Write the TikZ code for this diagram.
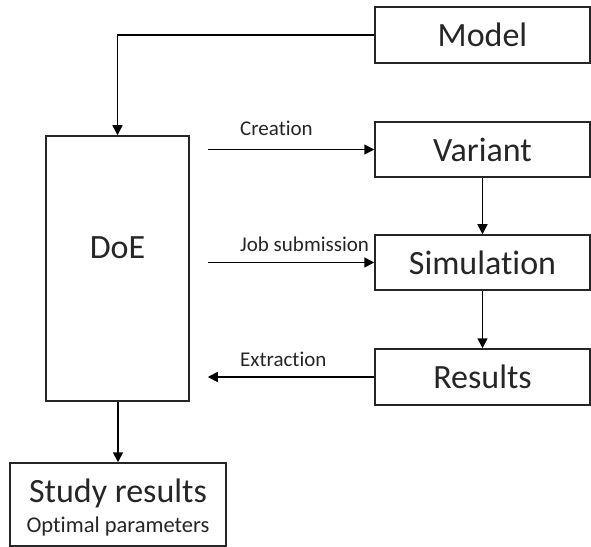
\documentclass[tikz,border=0pt]{standalone}
\usepackage{fontspec}
\setmainfont[Ligatures={NoCommon}]{Carlito}
\usetikzlibrary{arrows.meta,calc}
\begin{document}
\begin{tikzpicture}[x=1bp,y=-1bp,
  box/.style={draw=black!85,line width=1.5bp,inner sep=0pt,fill=white},
  big/.style={font=\fontsize{34bp}{40bp}\selectfont,text=black!85},
  small/.style={font=\fontsize{21bp}{25bp}\selectfont,text=black!85},
  arr/.style={line width=1.6bp,draw=black,-{Triangle[length=10bp,width=10bp]}}]
\useasboundingbox[fill=white] (0,0) rectangle (591,547);
% right column
\node[box,big,minimum width=215bp,minimum height=56bp] (model) at (482.5,35) {Model};
\node[box,big,minimum width=215bp,minimum height=55bp] (var) at (482.5,149.5) {Variant};
\node[box,big,minimum width=215bp,minimum height=55bp] (sim) at (482.5,262.5) {Simulation};
\node[box,big,minimum width=215bp,minimum height=56bp] (res) at (482.5,377) {Results};
% DoE
\node[box,minimum width=143bp,minimum height=265bp] (doe) at (117.5,268.5) {};
\node[big,inner sep=0pt] (doetext) at (117.5,248) {DoE};
% study results
\node[box,minimum width=216bp,minimum height=83bp] (study) at (118,504.5) {};
\node[big,inner sep=0pt,anchor=base] (studyt) at (118,502) {Study results};
\node[small,font=\fontsize{22.5bp}{26bp}\selectfont,inner sep=0pt,anchor=base] (studyo) at (118,532) {Optimal parameters};
% connectors
\draw[arr] (model.west) -| (doe.north);
\draw[arr] ($(doe.east |- var.west)+(18,0)$) -- (var.west);
\draw[arr] ($(doe.east |- sim.west)+(18,0)$) -- (sim.west);
\draw[arr] (res.west) -- ($(doe.east |- res.west)+(18,0)$);
\draw[arr] (var.south) -- (sim.north);
\draw[arr] (sim.south) -- (res.north);
\draw[arr] (doe.south -| study.north) -- (study.north);
% labels
\node[small,inner sep=0pt,anchor=base west] (lc) at (240,136) {Creation};
\node[small,inner sep=0pt,anchor=base west] (lj) at (240,251) {Job submission};
\node[small,inner sep=0pt,anchor=base west] (le) at (240,366) {Extraction};
\end{tikzpicture}
\end{document}
